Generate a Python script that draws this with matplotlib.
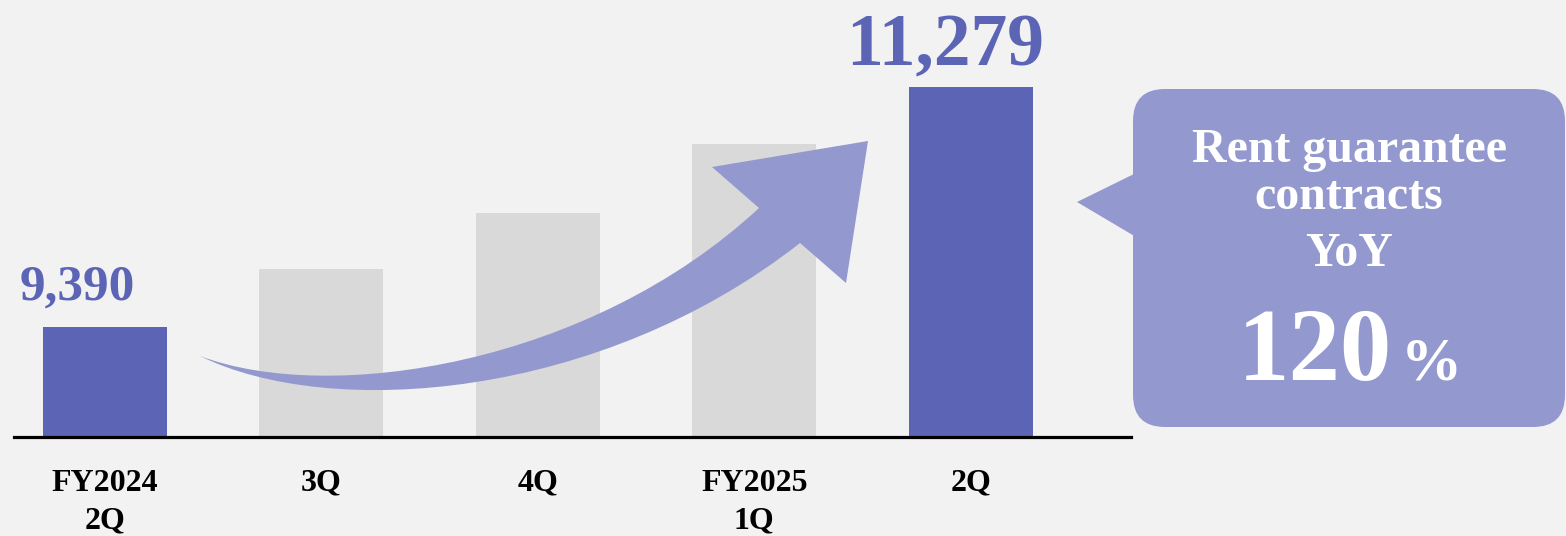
import matplotlib.pyplot as plt
from matplotlib.patches import FancyBboxPatch, Polygon, PathPatch
from matplotlib.path import Path
from matplotlib.transforms import Affine2D

plt.rcParams["font.family"] = ["Liberation Serif", "DejaVu Serif"]
plt.rcParams["font.weight"] = "bold"

# data
periods = ["FY2024\n2Q", "3Q", "4Q", "FY2025\n1Q", "2Q"]
contracts = [9390, 9850, 10290, 10830, 11279]
highlight = [True, False, False, False, True]
yoy_label = "120"

BG = "#F2F2F2"
DARK = "#5C65B5"
GRAY = "#D9D9D9"
LIGHT = "#9399CF"

W, H = 1566, 536
fig = plt.figure(figsize=(W / 100, H / 100), dpi=100, facecolor=BG)
ax = fig.add_axes([14 / W, 1 - 437 / H, (1131 - 14) / W, 437 / H])
ax.set_facecolor(BG)

x = list(range(len(periods)))
colors = [DARK if h else GRAY for h in highlight]
ax.bar(x, contracts, width=0.573, color=colors, zorder=1)
ax.set_xlim(-0.42, 4.74)
ax.set_ylim(8524, 11964)

for spine in ("left", "top", "right"):
    ax.spines[spine].set_visible(False)
ax.spines["bottom"].set_linewidth(2.3)
ax.spines["bottom"].set_color("black")
ax.spines["bottom"].set_zorder(3)
ax.set_yticks([])
ax.set_xticks(x, periods)
ax.tick_params(axis="x", length=0, pad=23, labelsize=23)
for lbl in ax.get_xticklabels():
    lbl.set_linespacing(1.38)
    lbl.set_fontweight("bold")

# value labels on highlighted bars
label_sizes = {0: 37, 4: 53}
label_offsets = {0: (-28, 27), 4: (-26, 22)}
for i, value in enumerate(contracts):
    if highlight[i]:
        ax.annotate(f"{value:,}", xy=(i, value), xytext=label_offsets[i],
                    textcoords="offset pixels", ha="center", va="baseline",
                    fontsize=label_sizes[i], fontweight="bold", color=DARK)

# pixel transform (origin top-left) for decorations
px = Affine2D().scale(1 / W, -1 / H).translate(0, 1) + fig.transFigure

# curved arrow: upper edge, head, lower edge back to the tail
verts = [
    (200, 356), (330, 405), (590, 365), (759, 208),
    (712, 167), (868, 141), (846, 283), (800, 243),
    (600, 400), (330, 420), (200, 356), (200, 356),
]
codes = [
    Path.MOVETO, Path.CURVE4, Path.CURVE4, Path.CURVE4,
    Path.LINETO, Path.LINETO, Path.LINETO, Path.LINETO,
    Path.CURVE4, Path.CURVE4, Path.CURVE4, Path.CLOSEPOLY,
]
fig.patches.append(PathPatch(Path(verts, codes), transform=px,
                             facecolor=LIGHT, edgecolor="none", zorder=5))

# callout box
box = FancyBboxPatch((1133, 89), 432, 338,
                     boxstyle="round,pad=0,rounding_size=32",
                     transform=px, facecolor=LIGHT, edgecolor="none")
fig.patches.append(box)
fig.patches.append(Polygon([(1077, 202), (1136, 173), (1136, 237)],
                           closed=True, transform=px,
                           facecolor=LIGHT, edgecolor="none"))

fig.text(1349, 162, "Rent guarantee", transform=px, ha="center",
         va="baseline", fontsize=34.5, color="white", fontweight="bold")
fig.text(1349, 209, "contracts", transform=px, ha="center",
         va="baseline", fontsize=34.5, color="white", fontweight="bold")
fig.text(1349, 266, "YoY", transform=px, ha="center",
         va="baseline", fontsize=34.5, color="white", fontweight="bold")
fig.text(1392, 380, yoy_label, transform=px, ha="right",
         va="baseline", fontsize=74, color="white", fontweight="bold")
fig.text(1401, 380, "%", transform=px, ha="left",
         va="baseline", fontsize=44, color="white", fontweight="bold")

fig.savefig("out.png", dpi=100, facecolor=BG)
